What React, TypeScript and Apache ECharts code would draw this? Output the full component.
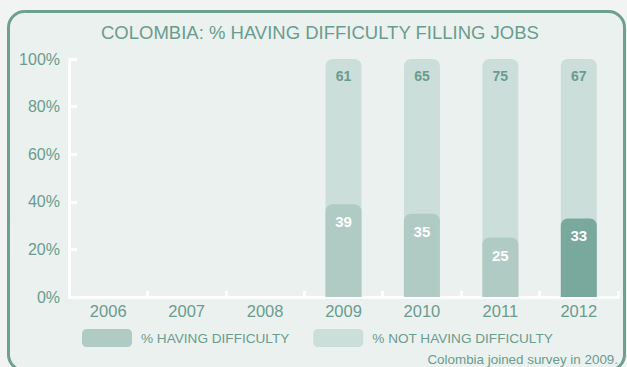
import React, { useEffect, useRef } from "react";
import * as echarts from "echarts";

const years = ["2006", "2007", "2008", "2009", "2010", "2011", "2012"];
const having: (number | null)[] = [null, null, null, 39, 35, 25, 33];
const notHaving: (number | null)[] = [null, null, null, 61, 65, 75, 67];
const yTicks = [0, 20, 40, 60, 80, 100];

const FONT = "'Liberation Sans', Arial, Helvetica, sans-serif";
const TEXT = "#6a9c8e";
const C_HAVING = "#afcbc4";
const C_HAVING_HI = "#79a89c";
const C_NOT = "#cbdeda";

export default function App() {
  const ref = useRef<HTMLDivElement>(null);
  useEffect(() => {
    if (!ref.current) return;
    const chart = echarts.init(ref.current, null, { renderer: "svg" });
    const totals = having.map((h, i) =>
      h == null || notHaving[i] == null ? null : (h as number) + (notHaving[i] as number)
    );
    chart.setOption({
      animation: false,
      backgroundColor: "#f1f4f3",
      textStyle: { fontFamily: FONT },
      title: {
        text: "COLOMBIA: % HAVING DIFFICULTY FILLING JOBS",
        left: 96,
        top: 18,
        textStyle: { fontFamily: FONT, fontSize: 18.5, fontWeight: "normal", color: TEXT },
      },
      graphic: [
        {
          type: "rect",
          z: -10,
          silent: true,
          shape: { x: 8.5, y: 11.5, width: 616, height: 359, r: 16 },
          style: { fill: "#ebf1ef", stroke: "#6f9f91", lineWidth: 3 },
        },
        {
          type: "text",
          right: 9,
          top: 353,
          style: {
            text: "Colombia joined survey in 2009.",
            fill: TEXT,
            font: `13.4px ${FONT}`,
          },
        },
      ],
      legend: {
        left: 77,
        top: 324,
        itemWidth: 50,
        itemHeight: 18,
        itemGap: 24,
        icon: "roundRect",
        data: ["% HAVING DIFFICULTY", "% NOT HAVING DIFFICULTY"],
        textStyle: { color: TEXT, fontSize: 13.6, fontFamily: FONT, padding: [0, 0, 0, 4] },
      },
      grid: { left: 69, right: 9, top: 59, bottom: 70 },
      xAxis: {
        type: "category",
        data: years,
        axisLine: { lineStyle: { color: "#ffffff", width: 3 } },
        axisTick: { show: true, inside: true, length: 6, lineStyle: { color: "#ffffff", width: 3 } },
        axisLabel: { color: TEXT, fontSize: 16.5, fontFamily: FONT, margin: 5 },
      },
      yAxis: {
        type: "value",
        min: 0,
        max: yTicks[yTicks.length - 1],
        interval: 20,
        axisLine: { show: true, lineStyle: { color: "#ffffff", width: 3 } },
        axisTick: { show: true, inside: true, length: 8, lineStyle: { color: "#ffffff", width: 3 } },
        splitLine: { show: false },
        axisLabel: { color: TEXT, fontSize: 16, fontFamily: FONT, formatter: "{value}%", margin: 9 },
      },
      series: [
        {
          name: "% NOT HAVING DIFFICULTY",
          type: "bar",
          barWidth: 36,
          barGap: "-100%",
          z: 1,
          data: totals,
          itemStyle: { color: C_NOT, borderRadius: [7, 7, 0, 0] },
          label: {
            show: true,
            position: "insideTop",
            distance: 10,
            color: TEXT,
            fontWeight: "bold",
            fontSize: 14,
            fontFamily: FONT,
            formatter: (p: any) => (notHaving[p.dataIndex] == null ? "" : String(notHaving[p.dataIndex])),
          },
        },
        {
          name: "% HAVING DIFFICULTY",
          type: "bar",
          barWidth: 36,
          barGap: "-100%",
          z: 2,
          data: having.map((v, i) =>
            i === having.length - 1 ? { value: v, itemStyle: { color: C_HAVING_HI } } : v
          ),
          itemStyle: { color: C_HAVING, borderRadius: [7, 7, 0, 0] },
          label: {
            show: true,
            position: "insideTop",
            distance: 10,
            color: "#ffffff",
            fontWeight: "bold",
            fontSize: 15,
            fontFamily: FONT,
          },
        },
      ],
    });
    return () => chart.dispose();
  }, []);
  return (
    <div
      ref={ref}
      style={{ position: "fixed", left: 0, top: 0, width: 627, height: 367 }}
    />
  );
}
